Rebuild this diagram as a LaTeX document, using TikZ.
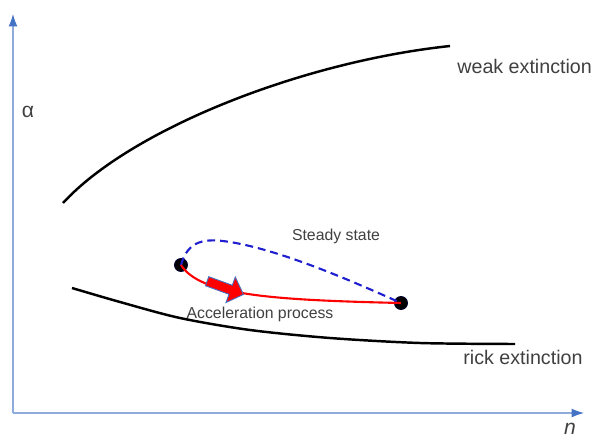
\documentclass[tikz,border=0pt]{standalone}
\usepackage{fontspec}
\setmainfont{Liberation Sans}
\usepackage{tikz}
\usetikzlibrary{arrows.meta,shapes.arrows}
\definecolor{axLine}{HTML}{8FAADC}
\definecolor{axTip}{HTML}{4472C4}
\definecolor{trRed}{HTML}{FF0000}
\definecolor{trBlue}{HTML}{1F1FD0}
\definecolor{lbGray}{HTML}{404040}

\tikzset{
    axis/.style={draw=axLine, line width=0.6pt, -{Latex[length=7pt,width=5pt,color=axTip]}},
    bound/.style={draw=black, line width=1.4pt},
    state/.style={circle, fill=black, draw=black!80!blue, inner sep=0pt, minimum size=7.5pt},
    bigLabel/.style={font=\fontsize{11.2}{13}\selectfont, text=lbGray, anchor=base west, inner sep=0pt},
    smallLabel/.style={font=\fontsize{9}{11}\selectfont, text=lbGray}
}

\begin{document}
\begin{tikzpicture}[x=0.02cm, y=-0.02cm]

    \useasboundingbox (0,0) rectangle (595,436);

    % Axes
    \coordinate (origin) at (13,413);
    \coordinate (ytip) at (13,14);
    \coordinate (xtip) at (584,413);
    \draw[axis] (origin) -- (ytip);
    \draw[axis] (origin) -- (xtip);
    \node[font=\fontsize{12}{14}\selectfont, text=lbGray] (alpha) at (28,112) {α};
    \node[font=\fontsize{12}{14}\selectfont\itshape, text=lbGray, anchor=base, inner sep=0pt] (nlab) at (570,434) {n};

    % Extinction boundaries
    \draw[bound] (63,203) .. controls (130,130) and (300,62) .. (450,46);
    \node[bigLabel] (weak) at (457,73) {weak extinction};
    \draw[bound] plot[smooth] coordinates {(72,288) (120,302) (180,318) (250,330) (330,338) (420,343) (515,344)};
    \node[bigLabel] (rick) at (463,364) {rick extinction};

    % States
    \node[state] (start) at (181,265) {};
    \node[state] (end) at (401,303) {};

    % Trajectories
    \draw[trBlue, line width=1.2pt, dash pattern=on 4.5pt off 2.8pt] (start.center) .. controls (188,240) and (205,238) .. (230,242) .. controls (280,250) and (350,280) .. (end.center);
    \draw[trRed, line width=1.2pt] (start.center) .. controls (200,295) and (270,300) .. (end.center);
    \node[single arrow, fill=trRed, draw=axTip, line width=0.5pt, minimum height=22pt, inner sep=2.5pt, single arrow head extend=5pt, rotate=-20] (push) at (223,287) {};

    \node[smallLabel] (steady) at (336,236) {Steady state};
    \node[smallLabel] (accel) at (260,314) {Acceleration process};

\end{tikzpicture}
\end{document}
